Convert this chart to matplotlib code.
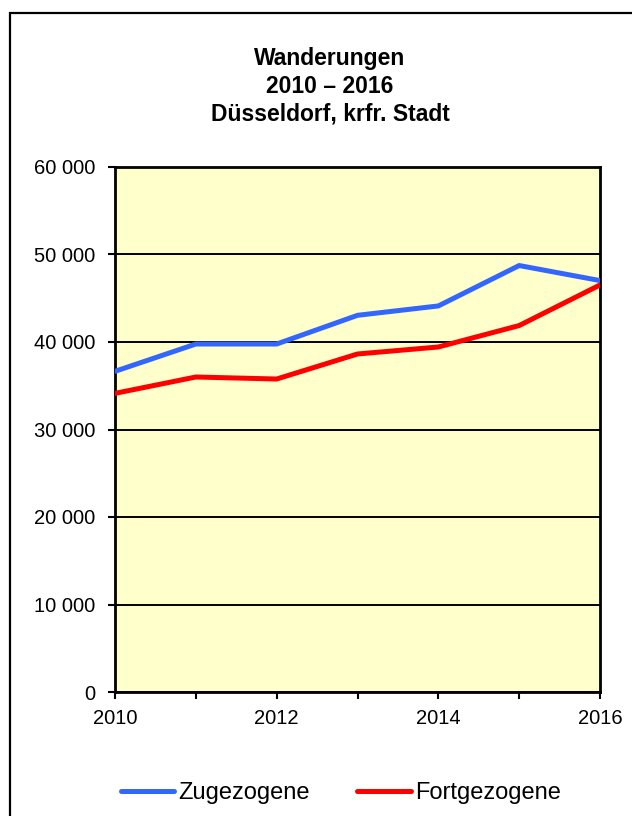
import numpy as np
import matplotlib
matplotlib.use("Agg")
from matplotlib import pyplot as plt
from matplotlib.patches import Rectangle
from matplotlib.ticker import FuncFormatter, MultipleLocator

plt.rcParams['font.family'] = ['Liberation Sans', 'DejaVu Sans']

years = [2010, 2011, 2012, 2013, 2014, 2015, 2016]
zugezogene = [36650, 39770, 39770, 43050, 44120, 48740, 47020]
fortgezogene = [34130, 36000, 35770, 38630, 39430, 41880, 46520]
title_lines = ["Wanderungen", "2010 \u2013 2016", "D\u00fcsseldorf, krfr. Stadt"]

W, H = 632, 816
fig = plt.figure(figsize=(W / 100, H / 100), dpi=100)

# outer frame (cut off at right and bottom like the reference)
fig.patches.append(Rectangle((10 / W, -0.05), 1.2, 1 - 13 / H + 0.05,
                             transform=fig.transFigure, fill=False,
                             edgecolor='black', linewidth=1.6))

ax = fig.add_axes([115 / W, 1 - 692 / H, 485 / W, 525 / H])
ax.set_facecolor('#FFFFCC')

ax.plot(years, zugezogene, color='#3366FF', linewidth=3.6, label='Zugezogene',
        solid_capstyle='round', zorder=3)
ax.plot(years, fortgezogene, color='#FF0000', linewidth=3.6, label='Fortgezogene',
        solid_capstyle='round', zorder=3)

ax.set_xlim(2010, 2016)
ax.set_ylim(0, 60000)
ax.yaxis.set_major_locator(MultipleLocator(10000))
ax.yaxis.set_major_formatter(FuncFormatter(lambda v, p: f"{int(v):,}".replace(",", " ")))
ax.xaxis.set_major_locator(MultipleLocator(2))
ax.xaxis.set_minor_locator(MultipleLocator(1))
ax.grid(axis='y', color='black', linewidth=1.4, zorder=1)

for s in ax.spines.values():
    s.set_linewidth(2)
ax.tick_params(axis='both', which='both', direction='out', labelsize=14.5,
               width=1.5, color='black')
ax.tick_params(axis='y', length=5, pad=9)
ax.tick_params(axis='x', which='both', length=5, pad=7)

for i, t in enumerate(title_lines):
    fig.text(330 / W, 1 - (65 + 28 * i) / H, t, ha='center', va='baseline',
             fontsize=16.5, fontweight='bold')

fig.legend(loc='center', bbox_to_anchor=(341 / W, 1 - 793 / H), ncol=2,
           frameon=False, fontsize=17, handlelength=2.25, handletextpad=0.2,
           columnspacing=2.0)

fig.savefig('out.png', dpi=100, facecolor='white')
